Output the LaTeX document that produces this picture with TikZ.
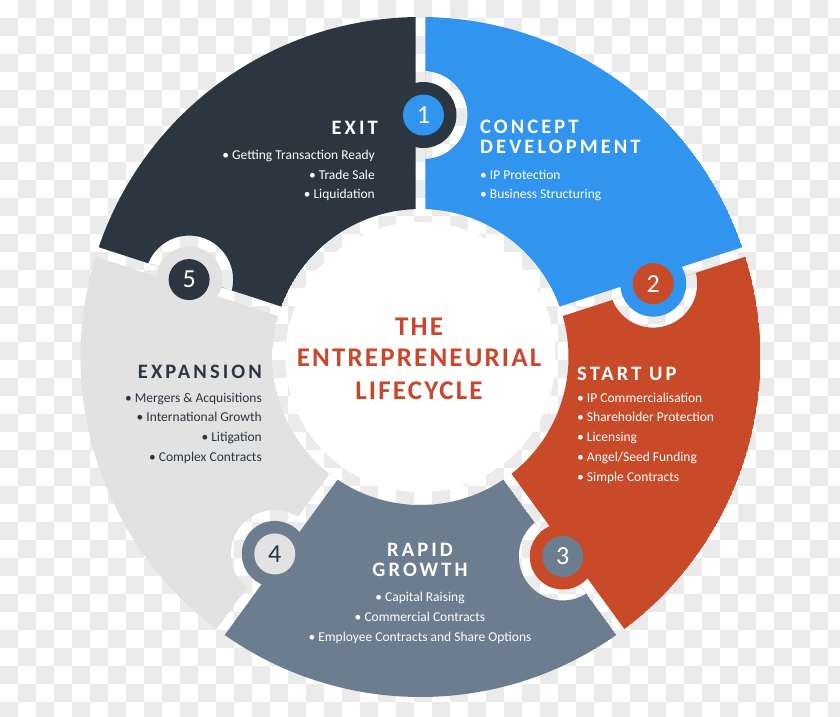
\documentclass[tikz,border=0pt]{standalone}
\usepackage{fontspec}
\setmainfont{Carlito}
\newfontfamily\headfont{Carlito}[LetterSpace=15]
\newfontfamily\titlefont{Carlito}[LetterSpace=8]
\definecolor{cdark}{HTML}{2B3641}
\definecolor{cblue}{HTML}{3194EE}
\definecolor{cred}{HTML}{C84A29}
\definecolor{cslate}{HTML}{6C7D8F}
\definecolor{clight}{HTML}{E2E2E2}
\definecolor{cchk}{HTML}{EBEBEB}
\definecolor{ctitle}{HTML}{C9482B}
\newcommand\segp[2]{({#1-0.8426}:340) arc[start angle={#1-0.8426}, end angle={#2+0.8426}, radius=340] -- ({#2+1.936}:148) arc[start angle={#2+1.936}, end angle={#1-1.936}, radius=148] -- cycle}
\newcommand\segfill[4]{\begin{scope}\clip \segp{#1}{#2};
\fill[#3, even odd rule] \segp{#1}{#2} (#4) circle[radius=44];
\end{scope}}
\begin{document}
\begin{tikzpicture}[x=1pt,y=1pt,
  head/.style={inner sep=0pt, font=\headfont\bfseries\fontsize{20.5}{20.5}\selectfont},
  body/.style={inner sep=0pt, font=\fontsize{13.5}{13.5}\selectfont},
  ttl/.style={inner sep=0pt, text=ctitle, font=\titlefont\bfseries\fontsize{27}{27}\selectfont},
  numc/.style={circle, minimum size=41pt, inner sep=0pt, font=\fontsize{26}{26}\selectfont},
]
\useasboundingbox (-420.5,-359) rectangle (419.5,357);
\begin{scope}
\clip (-420.5,-359) rectangle (419.5,357);
\foreach \i in {0,...,46}{\foreach \j in {0,...,39}{%
  \pgfmathtruncatemacro\p{mod(\i+\j,2)}%
  \ifnum\p=1 \fill[cchk] ({18*\i-420.5},{357-18*\j}) rectangle ++(18,-18);\fi}}
\end{scope}
% tab / notch centres
\coordinate (t1) at (89.3:242);
\coordinate (t2) at (17.5:244);
\coordinate (t3) at (-54.5:245);
\coordinate (t4) at (-126.5:245);
\coordinate (t5) at (161.5:244);
% segments
\segfill{90}{18}{cblue}{t1}
\segfill{18}{-54}{cred}{t2}
\segfill{-54}{-126}{cslate}{t3}
\segfill{-126}{-198}{clight}{t4}
\segfill{162}{90}{cdark}{t5}
% tabs
\fill[cdark] (t1) circle[radius=33];
\fill[cblue] (t2) circle[radius=33];
\fill[cred] (t3) circle[radius=33];
\fill[cslate] (t4) circle[radius=33];
\fill[clight] (t5) circle[radius=33];
% number circles
\node[numc, fill=cblue, text=white] (n1) at (t1) {1};
\node[numc, fill=cred, text=white] (n2) at (t2) {2};
\node[numc, fill=cslate, text=white] (n3) at (t3) {3};
\node[numc, fill=clight, text=cdark] (n4) at (t4) {4};
\node[numc, fill=cdark, text=white] (n5) at (t5) {5};
% centre
\fill[white] (0,0) circle[radius=135];
\node[ttl, anchor=base] (tt1) at (-1.5,22) {THE};
\node[ttl, anchor=base] (tt2) at (-1.5,-9.7) {ENTREPRENEURIAL};
\node[ttl, anchor=base] (tt3) at (-1.5,-42) {LIFECYCLE};
% EXIT
\node[head, text=white, anchor=base east] (h5) at (-42.5,223) {EXIT};
\node[body, text=white, anchor=base east] (b51) at (-45.5,198) {• Getting Transaction Ready};
\node[body, text=white, anchor=base east] (b52) at (-45.5,178) {• Trade Sale};
\node[body, text=white, anchor=base east] (b53) at (-45.5,158.5) {• Liquidation};
% CONCEPT
\node[head, text=white, anchor=base west] (h1a) at (59.5,223.5) {CONCEPT};
\node[head, text=white, anchor=base west] (h1b) at (59.5,204) {DEVELOPMENT};
\node[body, text=white, anchor=base west] (b11) at (59.5,178) {• IP Protection};
\node[body, text=white, anchor=base west] (b12) at (59.5,158.5) {• Business Structuring};
% START UP
\node[head, text=white, anchor=base west] (h2) at (156.5,-23) {START UP};
\node[body, text=white, anchor=base west] (b21) at (156.5,-45) {• IP Commercialisation};
\node[body, text=white, anchor=base west] (b22) at (156.5,-64.8) {• Shareholder Protection};
\node[body, text=white, anchor=base west] (b23) at (156.5,-84.6) {• Licensing};
\node[body, text=white, anchor=base west] (b24) at (156.5,-104.4) {• Angel/Seed Funding};
\node[body, text=white, anchor=base west] (b25) at (156.5,-124.2) {• Simple Contracts};
% EXPANSION
\node[head, text=cdark, anchor=base east] (h4) at (-158.5,-21) {EXPANSION};
\node[body, text=cdark, anchor=base east] (b41) at (-158.5,-45) {• Mergers \& Acquisitions};
\node[body, text=cdark, anchor=base east] (b42) at (-158.5,-64.8) {• International Growth};
\node[body, text=cdark, anchor=base east] (b43) at (-158.5,-84.6) {• Litigation};
\node[body, text=cdark, anchor=base east] (b44) at (-158.5,-104.4) {• Complex Contracts};
% RAPID GROWTH
\node[head, text=white, anchor=base] (h3a) at (-0.5,-199.7) {RAPID};
\node[head, text=white, anchor=base] (h3b) at (-0.5,-219) {GROWTH};
\node[body, text=white, anchor=base] (b31) at (-0.5,-244) {• Capital Raising};
\node[body, text=white, anchor=base] (b32) at (-0.5,-264.5) {• Commercial Contracts};
\node[body, text=white, anchor=base] (b33) at (-0.5,-284) {• Employee Contracts and Share Options};
\end{tikzpicture}
\end{document}
